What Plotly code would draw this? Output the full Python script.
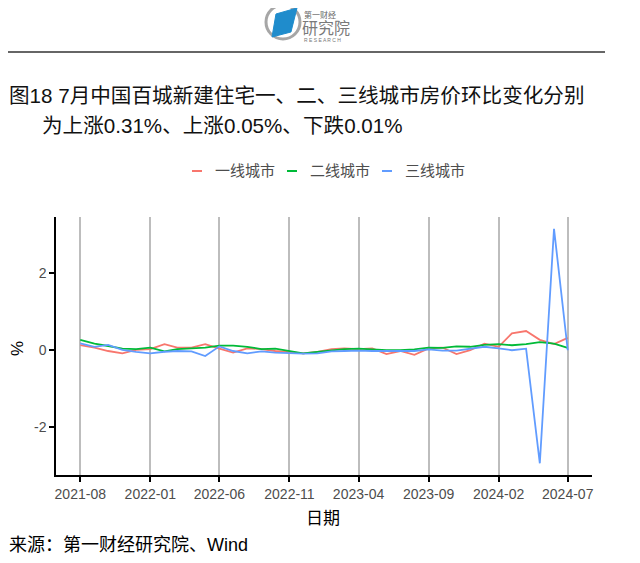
import pandas as pd
import plotly.graph_objects as go

# 月份：2021-08 到 2024-07
meses = pd.date_range("2021-08-01", periods=36, freq="MS")

# 环比变化 (%)，从图上读取的估计值
tier1 = [0.12, 0.06, -0.03, -0.09, 0.00, 0.02, 0.15, 0.06, 0.06, 0.15,
         0.03, -0.07, 0.04, 0.02, -0.03, -0.07, -0.09, -0.05, 0.02, 0.04,
         0.02, 0.04, -0.11, -0.03, -0.13, 0.04, 0.06, -0.11, -0.01, 0.16,
         0.08, 0.43, 0.49, 0.26, 0.15, 0.31]
tier2 = [0.26, 0.16, 0.10, 0.03, 0.02, 0.06, -0.04, 0.02, 0.04, 0.06,
         0.11, 0.11, 0.08, 0.02, 0.03, -0.04, -0.09, -0.05, -0.02, 0.02,
         0.03, 0.01, -0.01, -0.01, 0.01, 0.06, 0.05, 0.09, 0.08, 0.13,
         0.15, 0.12, 0.15, 0.20, 0.16, 0.05]
tier3 = [0.17, 0.08, 0.13, 0.00, -0.05, -0.09, -0.05, -0.03, -0.04, -0.16,
         0.09, -0.03, -0.09, -0.04, -0.07, -0.08, -0.10, -0.09, -0.04, -0.03,
         -0.02, -0.03, -0.03, -0.03, -0.03, 0.01, -0.02, -0.02, 0.03, 0.08,
         0.04, -0.01, 0.03, -2.95, 3.15, -0.01]

nomes = ["一线城市", "二线城市", "三线城市"]
cores = ["#F8766D", "#00BA38", "#619CFF"]

tick_datas = ["2021-08-01", "2022-01-01", "2022-06-01", "2022-11-01",
              "2023-04-01", "2023-09-01", "2024-02-01", "2024-07-01"]
tick_textos = ["2021-08", "2022-01", "2022-06", "2022-11",
               "2023-04", "2023-09", "2024-02", "2024-07"]
y_ticks = [-2, 0, 2]
y_textos = ["-2", "0", "2"]

W, H = 640, 563
OFF = 8  # margem do body da página
L, R, T, B = 56 - OFF, 592 - OFF, 217 - OFF, 475 - OFF

# coordenadas medidas na imagem de referência -> papel
def px(x):
    return (x - OFF - L) / (R - L)

def py(y):
    return (B - (y - OFF)) / (B - T)

FONTE = "Liberation Sans, Noto Sans CJK SC, sans-serif"

fig = go.Figure()
for nome, cor, serie in zip(nomes, cores, [tier1, tier2, tier3]):
    fig.add_trace(go.Scatter(x=meses, y=serie, mode="lines", name=nome,
                             line=dict(color=cor, width=1.8), showlegend=False))

fig.update_layout(
    width=W, height=H,
    margin=dict(l=L, r=W - R, t=T, b=H - B),
    paper_bgcolor="white", plot_bgcolor="white",
    font=dict(family=FONTE, color="#4d4d4d"),
)
fig.update_xaxes(
    range=["2021-06-09", "2024-08-23"],
    tickvals=tick_datas, ticktext=tick_textos,
    showgrid=True, gridcolor="#bdbdbd", gridwidth=1.5,
    showline=True, linecolor="black", linewidth=1.5,
    ticks="outside", ticklen=5, tickwidth=1.5, tickcolor="black",
    tickfont=dict(size=14, color="#4d4d4d"), zeroline=False,
)
fig.update_yaxes(
    range=[-3.255, 3.455], tickvals=y_ticks, ticktext=y_textos,
    showgrid=False, zeroline=False,
    showline=True, linecolor="black", linewidth=1.5,
    ticks="outside", ticklen=5, tickwidth=1.5, tickcolor="black",
    tickfont=dict(size=14, color="#4d4d4d"),
)

anot = []
# título
anot.append(dict(text="图18 7月中国百城新建住宅一、二、三线城市房价环比变化分别",
                 x=px(7), y=py(95), xanchor="left", yanchor="middle",
                 font=dict(size=20.6, color="#111111")))
anot.append(dict(text="为上涨0.31%、上涨0.05%、下跌0.01%",
                 x=px(40), y=py(125), xanchor="left", yanchor="middle",
                 font=dict(size=20.6, color="#111111")))
# legenda manual
leg_x = [192, 287, 382]
shapes = []
for xi, nome, cor in zip(leg_x, nomes, cores):
    shapes.append(dict(type="line", xref="paper", yref="paper",
                       x0=px(xi), x1=px(xi + 10), y0=py(171), y1=py(171),
                       line=dict(color=cor, width=2)))
    anot.append(dict(text=nome, x=px(xi + 21), y=py(171), xanchor="left",
                     yanchor="middle", font=dict(size=15, color="#4d4d4d")))
# títulos dos eixos e fonte
anot.append(dict(text="%", x=px(17), y=py(349), textangle=-90,
                 xanchor="center", yanchor="middle",
                 font=dict(size=17, color="black")))
anot.append(dict(text="日期", x=px(323), y=py(518), xanchor="center",
                 yanchor="middle", font=dict(size=17, color="black")))
anot.append(dict(text="来源：第一财经研究院、Wind", x=px(7), y=py(545),
                 xanchor="left", yanchor="middle",
                 font=dict(size=18, color="black")))
# logo
anot.append(dict(text="第一财经", x=px(302), y=py(15), xanchor="left",
                 yanchor="middle", font=dict(size=8, color="#666666")))
anot.append(dict(text="研究院", x=px(300), y=py(28), xanchor="left",
                 yanchor="middle", font=dict(size=16, color="#7a7a7a")))
anot.append(dict(text="R E S E A R C H", x=px(302), y=py(40), xanchor="left",
                 yanchor="middle", font=dict(size=5, color="#777777")))
for a in anot:
    a.update(xref="paper", yref="paper", showarrow=False)

shapes.append(dict(type="circle", xref="paper", yref="paper",
                   x0=px(266), x1=px(300), y0=py(39), y1=py(5),
                   line=dict(color="#a6a6a6", width=3)))
pts = [(276, 14), (297, 8), (291, 32), (272, 37)]
caminho = "M " + " L ".join(f"{px(a):.4f},{py(b):.4f}" for a, b in pts) + " Z"
shapes.append(dict(type="path", xref="paper", yref="paper", path=caminho,
                   fillcolor="#1f8ccc", line=dict(color="#1f8ccc", width=1)))
# linha do cabeçalho
shapes.append(dict(type="line", xref="paper", yref="paper",
                   x0=px(8), x1=px(605), y0=py(52), y1=py(52),
                   line=dict(color="#333333", width=1.5)))

fig.update_layout(annotations=anot, shapes=shapes)
fig.write_html("out.html")
